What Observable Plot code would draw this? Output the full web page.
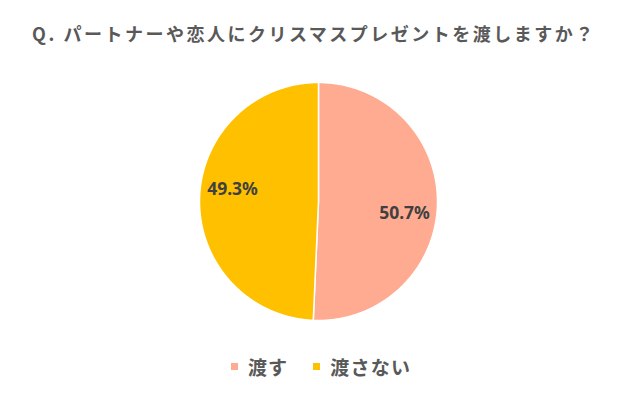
<!DOCTYPE html>
<html><head><meta charset="utf-8">
<script src="https://cdn.jsdelivr.net/npm/d3@7"></script>
<script src="https://cdn.jsdelivr.net/npm/@observablehq/plot@0.6"></script>
<style>
body{margin:0;background:#fff;font-family:"Noto Sans CJK JP","Noto Sans",sans-serif;}
#wrap{width:640px;height:396px;position:relative;overflow:hidden}
#title{height:66px;line-height:66px;text-align:center;font-size:18px;font-weight:700;color:#595959;letter-spacing:2.5px;box-sizing:border-box;width:628px}
#legend{display:flex;justify-content:center;align-items:center;gap:25px;font-size:19px;font-weight:700;color:#595959;margin-top:17px;letter-spacing:1.2px;width:640px;padding-left:2px;box-sizing:border-box}
#legend .it{display:flex;align-items:center;gap:10px}
#legend .sw{width:7px;height:7px;display:inline-block}
svg{display:block}
</style></head>
<body><div id="wrap"><div id="title"></div><div id="chart"></div><div id="legend"></div></div>
<script>
const title = "Q. パートナーや恋人にクリスマスプレゼントを渡しますか？";
const categories = ["渡す", "渡さない"];
const values = [50.7, 49.3];
const colors = ["#FFAB91", "#FFC000"];

document.getElementById("title").textContent = title;

const pie = d3.pie().sort(null).value(d => d.value)(categories.map((c, i) => ({category: c, value: values[i]})));

// polygon points for each slice (clockwise from top), unit circle
const pts = [];
pie.forEach(s => {
  const n = Math.max(2, Math.ceil((s.endAngle - s.startAngle) / 0.01));
  pts.push({category: s.data.category, x: 0, y: 0});
  for (let k = 0; k <= n; k++) {
    const a = s.startAngle + (s.endAngle - s.startAngle) * k / n;
    pts.push({category: s.data.category, x: Math.sin(a), y: Math.cos(a)});
  }
  pts.push({category: s.data.category, x: 0, y: 0});
});
const labelShift = 0.12; // radians, label placement rotation
const labels = pie.map(s => {
  const a = (s.startAngle + s.endAngle) / 2 + labelShift;
  return {category: s.data.category, x: 0.73 * Math.sin(a), y: 0.73 * Math.cos(a), text: s.data.value.toFixed(1) + "%"};
});

const R = 119, cx = 318, cy = 135, H = 270;
const chart = Plot.plot({
  width: 640, height: H,
  margin: 0,
  x: {domain: [-1, 1], range: [cx - R, cx + R], axis: null},
  y: {domain: [-1, 1], range: [cy + R, cy - R], axis: null},
  color: {domain: categories, range: colors},
  marks: [
    Plot.line(pts, {x: "x", y: "y", z: "category", fill: "category", stroke: "white", strokeWidth: 1.5, strokeLinejoin: "round", curve: "linear"}),
    Plot.text(labels, {x: "x", y: "y", text: "text", fill: "#404040", fontSize: 17.5, fontWeight: 700, fontFamily: "'Noto Sans','Noto Sans CJK JP',sans-serif"})
  ]
});
document.getElementById("chart").appendChild(chart);

const lg = document.getElementById("legend");
categories.forEach((c, i) => {
  const it = document.createElement("span"); it.className = "it";
  const sw = document.createElement("span"); sw.className = "sw"; sw.style.background = colors[i];
  const t = document.createElement("span"); t.textContent = c;
  it.appendChild(sw); it.appendChild(t); lg.appendChild(it);
});
</script></body></html>
